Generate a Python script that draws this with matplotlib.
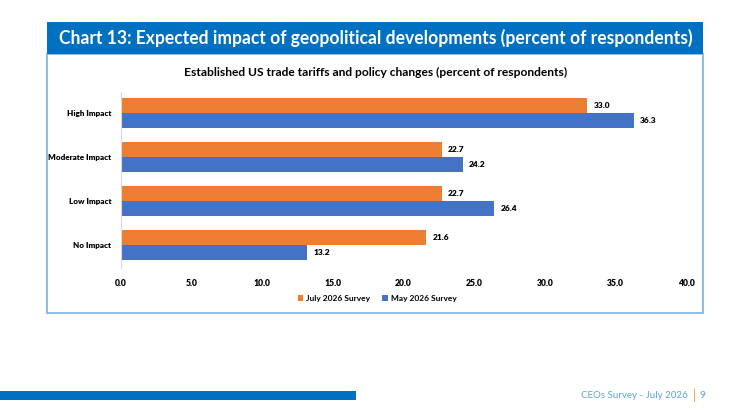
import matplotlib.pyplot as plt
from matplotlib.patches import Rectangle
import numpy as np

categories = ['High Impact', 'Moderate Impact', 'Low Impact', 'No Impact']
july_2026 = [33.0, 22.7, 22.7, 21.6]
may_2026 = [36.3, 24.2, 26.4, 13.2]
series_names = ['July 2026 Survey', 'May 2026 Survey']
x_ticks = [0, 5, 10, 15, 20, 25, 30, 35, 40]

ORANGE = '#ED7D31'
BLUE = '#4472C4'
HEADER = '#0070C0'
BORDER = '#8DB4E2'
FONT = ['Lato', 'DejaVu Sans']

W, H = 744, 416
fig = plt.figure(figsize=(W / 100, H / 100), dpi=100)
plt.rcParams['font.family'] = FONT


def fx(px):
    return px / W


def fy(py):
    return 1 - py / H


# frame around the chart and blue header band
fig.patches.append(Rectangle((fx(47), fy(313)), fx(703) - fx(47), fy(54) - fy(313),
                             transform=fig.transFigure, facecolor='white',
                             edgecolor=BORDER, lw=1.3, zorder=-2))
fig.patches.append(Rectangle((fx(47), fy(54)), fx(703) - fx(47), fy(22) - fy(54),
                             transform=fig.transFigure, facecolor=HEADER,
                             edgecolor='none', zorder=-1))
fig.text(fx(376), fy(38), 'Chart 13: Expected impact of geopolitical developments (percent of respondents)',
         color='white', fontsize=12.65, fontweight='bold', ha='center', va='center')
fig.text(fx(376), fy(72), 'Established US trade tariffs and policy changes (percent of respondents)',
         color='black', fontsize=8.65, fontweight='bold', ha='center', va='center')

# footer
fig.patches.append(Rectangle((0, fy(400)), fx(356), fy(391) - fy(400),
                             transform=fig.transFigure, facecolor=HEADER, edgecolor='none'))
fig.text(fx(688), fy(396), 'CEOs Survey - July 2026', color='#5BA3DB', fontsize=7,
         ha='right', va='center')
fig.text(fx(694), fy(395), '|', color='#F0A030', fontsize=9, ha='center', va='center')
fig.text(fx(702), fy(396), '9', color='#5BA3DB', fontsize=7.5, ha='center', va='center')

ax = fig.add_axes([fx(121), fy(268), fx(686) - fx(121), fy(92) - fy(268)])
ax.patch.set_alpha(0)
pos = np.arange(len(categories))[::-1]
h = 0.34
b1 = ax.barh(pos + h / 2, july_2026, height=h, color=ORANGE, label=series_names[0])
b2 = ax.barh(pos - h / 2, may_2026, height=h, color=BLUE, label=series_names[1])
for bars in (b1, b2):
    for bar in bars:
        ax.text(bar.get_width() + 0.45, bar.get_y() + bar.get_height() / 2,
                f'{bar.get_width():.1f}', fontsize=6, fontweight='heavy',
                ha='left', va='center')

ax.set_xlim(0, 40)
ax.set_ylim(-0.51, 3.47)
ax.set_xticks(x_ticks)
ax.set_xticklabels([f'{t:.1f}' for t in x_ticks], fontsize=6.2, fontweight='heavy')
ax.set_yticks(pos)
ax.set_yticklabels(categories, fontsize=5.8, fontweight='heavy')
ax.tick_params(axis='both', length=0, pad=7)
ax.tick_params(axis='x', pad=8)
for side in ('top', 'right', 'bottom'):
    ax.spines[side].set_visible(False)
ax.spines['left'].set_color('#D9D9D9')

fig.legend(handles=[b1, b2], loc='center', bbox_to_anchor=(fx(377), fy(298)),
           ncol=2, frameon=False, handlelength=0.7, handleheight=0.7,
           columnspacing=1.5, handletextpad=0.3, prop={'weight': 'bold', 'size': 6})

fig.savefig('out.png', dpi=100)
